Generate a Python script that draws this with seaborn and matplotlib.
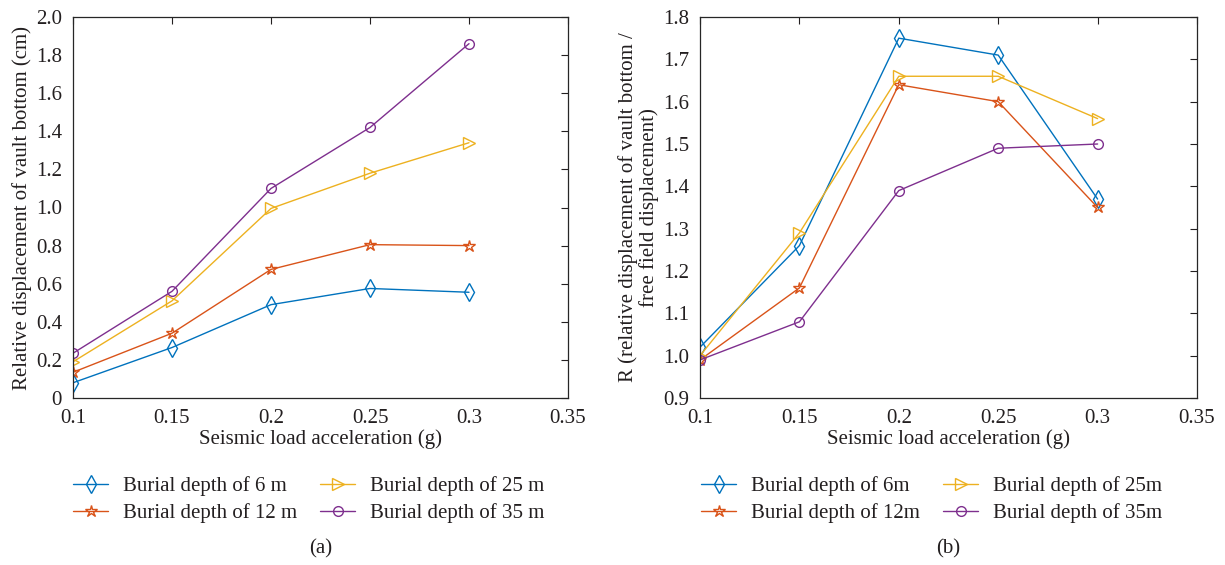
import matplotlib
matplotlib.use("Agg")
import matplotlib.pyplot as plt
import seaborn as sns
import pandas as pd
from matplotlib.ticker import FuncFormatter

sns.set_theme(style="white")
plt.rcParams['font.family'] = ['Liberation Serif', 'DejaVu Serif']
plt.rcParams['mathtext.fontset'] = 'stix'

accel = [0.1, 0.15, 0.2, 0.25, 0.3]

disp_6 = [0.08, 0.265, 0.49, 0.575, 0.555]
disp_12 = [0.135, 0.34, 0.675, 0.805, 0.80]
disp_25 = [0.19, 0.51, 0.995, 1.18, 1.34]
disp_35 = [0.235, 0.56, 1.10, 1.42, 1.86]

r_6 = [1.02, 1.26, 1.75, 1.71, 1.37]
r_12 = [0.99, 1.16, 1.64, 1.60, 1.35]
r_25 = [1.00, 1.29, 1.66, 1.66, 1.56]
r_35 = [0.99, 1.08, 1.39, 1.49, 1.50]

labels_a = ["Burial depth of 6 m", "Burial depth of 12 m", "Burial depth of 25 m", "Burial depth of 35 m"]
labels_b = ["Burial depth of 6m", "Burial depth of 12m", "Burial depth of 25m", "Burial depth of 35m"]
colors = ["#0072BD", "#D95319", "#EDB120", "#7E2F8E"]
markers = ["d", "*", ">", "o"]
msizes = [9, 9, 8, 7]

x_ticks = [0.1, 0.15, 0.2, 0.25, 0.3, 0.35]
yticks_a = [0, 0.2, 0.4, 0.6, 0.8, 1.0, 1.2, 1.4, 1.6, 1.8, 2.0]
yticks_b = [0.9, 1.0, 1.1, 1.2, 1.3, 1.4, 1.5, 1.6, 1.7, 1.8]

fig = plt.figure(figsize=(12.25, 5.65), dpi=100)
ax1 = fig.add_axes([73/1225, 1-398/565, (568-73)/1225, (398-17)/565])
ax2 = fig.add_axes([700/1225, 1-398/565, (1197-700)/1225, (398-17)/565])

def draw(ax, series, labels):
    for ys, lab, c, m, ms in zip(series, labels, colors, markers, msizes):
        df = pd.DataFrame({"x": accel, "y": ys})
        sns.lineplot(data=df, x="x", y="y", ax=ax, color=c, marker=m,
                     markersize=ms, markerfacecolor="none", markeredgecolor=c,
                     markeredgewidth=1.0, linewidth=1.0, label=lab)
    h, l = ax.get_legend_handles_labels()
    ax.get_legend().remove()
    return h, l

h1, l1 = draw(ax1, [disp_6, disp_12, disp_25, disp_35], labels_a)
h2, l2 = draw(ax2, [r_6, r_12, r_25, r_35], labels_b)

fs = 15
tc = "#231f20"
for ax, yt in [(ax1, yticks_a), (ax2, yticks_b)]:
    ax.set_xlim(0.1, 0.35)
    ax.set_ylim(yt[0], yt[-1])
    ax.set_xticks(x_ticks)
    ax.set_xticklabels([f"{v:g}" for v in x_ticks])
    ax.set_yticks(yt)
    ax.tick_params(direction="in", top=True, right=True, length=5, width=0.8,
                   labelsize=fs, colors=tc)
    ax.tick_params(axis="x", pad=8)
    ax.tick_params(axis="y", pad=8)
    for s in ax.spines.values():
        s.set_color("#262626")
        s.set_linewidth(0.9)
    ax.set_xlabel("Seismic load acceleration (g)", fontsize=fs, color=tc, labelpad=1)
    ax.grid(False)

ax1.yaxis.set_major_formatter(FuncFormatter(lambda v, p: "0" if abs(v) < 1e-9 else f"{v:.1f}"))
ax2.yaxis.set_major_formatter(FuncFormatter(lambda v, p: f"{v:.1f}"))
ax1.set_ylabel("Relative displacement of vault bottom (cm)", fontsize=fs, color=tc, labelpad=3)
ax2.set_ylabel("R (relative displacement of vault bottom /\nfree field displacement)", fontsize=fs,
               color=tc, linespacing=1.05, labelpad=3)

for h, l, xa in [(h1, l1, 73), (h2, l2, 701)]:
    leg = fig.legend(h, l, ncol=2,
                     loc="upper left", bbox_to_anchor=(xa/1225, 1-476/565),
                     frameon=False, fontsize=fs, handlelength=1.7, columnspacing=1.1,
                     labelspacing=0.36, handletextpad=0.7, borderpad=0, borderaxespad=0)
    for t in leg.get_texts():
        t.set_color(tc)

fig.text((73+568)/2/1225, 1-549/565, "(a)", ha="center", va="center", fontsize=fs, color=tc)
fig.text((700+1197)/2/1225, 1-549/565, "(b)", ha="center", va="center", fontsize=fs, color=tc)

fig.savefig("out.png", dpi=100, facecolor="white")
